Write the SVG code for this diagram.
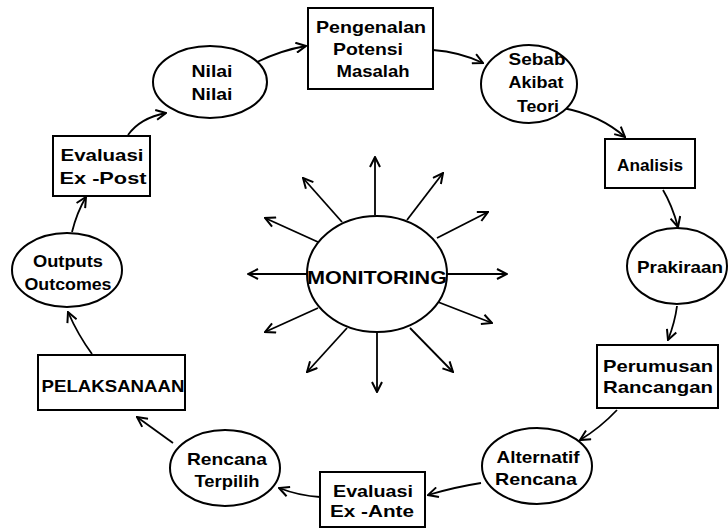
<svg xmlns="http://www.w3.org/2000/svg" width="728" height="529" viewBox="0 0 728 529">
<defs>
<marker id="ah" viewBox="0 0 12 12" refX="11" refY="6" markerWidth="12" markerHeight="12" markerUnits="userSpaceOnUse" orient="auto">
<path d="M1,1 L11,6 L1,11" fill="none" stroke="#000" stroke-width="2"/>
</marker>
<style>
.shape{fill:#fff;stroke:#000;stroke-width:2}
.t{font-family:"Liberation Sans",Arial,sans-serif;font-weight:bold;font-size:17px;fill:#000;text-anchor:middle}
.c{fill:none;stroke:#000;stroke-width:1.8;marker-end:url(#ah)}
</style>
</defs>
<rect width="728" height="529" fill="#fff"/>
<g id="connectors">
<path class="c" d="M257,62 Q282,50 306,46"/>
<path class="c" d="M433,50 Q460,52 483,63"/>
<path class="c" d="M563,108 Q600,115 625,137"/>
<path class="c" d="M663,190 Q672,205 678,227"/>
<path class="c" d="M677,306 Q675,322 668,340"/>
<path class="c" d="M617,410 Q600,428 580,440"/>
<path class="c" d="M481,483 Q455,487 428,495"/>
<path class="c" d="M320,497 Q300,496 279,488"/>
<path class="c" d="M173,443 Q155,430 137,417"/>
<path class="c" d="M92,354 Q78,335 68,312"/>
<path class="c" d="M72,232 Q77,212 86,197"/>
<path class="c" d="M128,135 Q140,118 166,113"/>
<path class="c" d="M375,215 L375,157"/>
<path class="c" d="M407,220 L443,173"/>
<path class="c" d="M437,238 L488,212"/>
<path class="c" d="M447,274 L507,274"/>
<path class="c" d="M438,302 L492,323"/>
<path class="c" d="M410,328 L453,372"/>
<path class="c" d="M377,332 L377,392"/>
<path class="c" d="M347,328 L307,372"/>
<path class="c" d="M318,308 L265,332"/>
<path class="c" d="M308,274 L248,274"/>
<path class="c" d="M318,242 L265,218"/>
<path class="c" d="M342,222 L303,178"/>
</g>
<g id="monitoring">
<ellipse class="shape" cx="377" cy="274" rx="70" ry="58"/>
<text class="t" x="377" y="284" textLength="140" lengthAdjust="spacingAndGlyphs" style="font-size:19px">MONITORING</text>
</g>
<g id="nilai">
<ellipse class="shape" cx="210" cy="82" rx="57" ry="36"/>
<text class="t" x="212" y="77" textLength="41" lengthAdjust="spacingAndGlyphs">Nilai</text>
<text class="t" x="212" y="100" textLength="41" lengthAdjust="spacingAndGlyphs">Nilai</text>
</g>
<g id="pengenalan">
<rect class="shape" x="308" y="8" width="125" height="81"/>
<text class="t" x="371" y="33" textLength="110" lengthAdjust="spacingAndGlyphs">Pengenalan</text>
<text class="t" x="368" y="55" textLength="70" lengthAdjust="spacingAndGlyphs">Potensi</text>
<text class="t" x="373" y="77" textLength="73" lengthAdjust="spacingAndGlyphs">Masalah</text>
</g>
<g id="sebab">
<ellipse class="shape" cx="529" cy="84" rx="48" ry="39"/>
<text class="t" x="537" y="65" textLength="57" lengthAdjust="spacingAndGlyphs">Sebab</text>
<text class="t" x="536" y="88" textLength="55" lengthAdjust="spacingAndGlyphs">Akibat</text>
<text class="t" x="538" y="112" textLength="42" lengthAdjust="spacingAndGlyphs">Teori</text>
</g>
<g id="analisis">
<rect class="shape" x="605" y="139" width="90" height="49"/>
<text class="t" x="650" y="171" textLength="66" lengthAdjust="spacingAndGlyphs">Analisis</text>
</g>
<g id="prakiraan">
<ellipse class="shape" cx="677" cy="266" rx="50" ry="38"/>
<text class="t" x="680" y="273" textLength="86" lengthAdjust="spacingAndGlyphs">Prakiraan</text>
</g>
<g id="perumusan">
<rect class="shape" x="597" y="345" width="121" height="63"/>
<text class="t" x="658" y="372" textLength="110" lengthAdjust="spacingAndGlyphs">Perumusan</text>
<text class="t" x="658" y="393" textLength="110" lengthAdjust="spacingAndGlyphs">Rancangan</text>
</g>
<g id="alternatif">
<ellipse class="shape" cx="537" cy="466" rx="55" ry="38"/>
<text class="t" x="538" y="463" textLength="83" lengthAdjust="spacingAndGlyphs">Alternatif</text>
<text class="t" x="536" y="485" textLength="82" lengthAdjust="spacingAndGlyphs">Rencana</text>
</g>
<g id="evaluasi-ante">
<rect class="shape" x="320" y="472" width="105" height="55"/>
<text class="t" x="373" y="497" textLength="80" lengthAdjust="spacingAndGlyphs">Evaluasi</text>
<text class="t" x="372" y="517" textLength="84" lengthAdjust="spacingAndGlyphs">Ex -Ante</text>
</g>
<g id="rencana-terpilih">
<ellipse class="shape" cx="225" cy="468" rx="55" ry="38"/>
<text class="t" x="227" y="465" textLength="80" lengthAdjust="spacingAndGlyphs">Rencana</text>
<text class="t" x="227" y="487" textLength="65" lengthAdjust="spacingAndGlyphs">Terpilih</text>
</g>
<g id="pelaksanaan">
<rect class="shape" x="38" y="355" width="147" height="55"/>
<text class="t" x="113" y="392" textLength="143" lengthAdjust="spacingAndGlyphs">PELAKSANAAN</text>
</g>
<g id="outputs">
<ellipse class="shape" cx="67" cy="270" rx="55" ry="37"/>
<text class="t" x="68" y="267" textLength="70" lengthAdjust="spacingAndGlyphs">Outputs</text>
<text class="t" x="68" y="290" textLength="87" lengthAdjust="spacingAndGlyphs">Outcomes</text>
</g>
<g id="evaluasi-post">
<rect class="shape" x="53" y="136" width="97" height="60"/>
<text class="t" x="102" y="161" textLength="83" lengthAdjust="spacingAndGlyphs">Evaluasi</text>
<text class="t" x="103" y="184" textLength="87" lengthAdjust="spacingAndGlyphs">Ex -Post</text>
</g>
</svg>
